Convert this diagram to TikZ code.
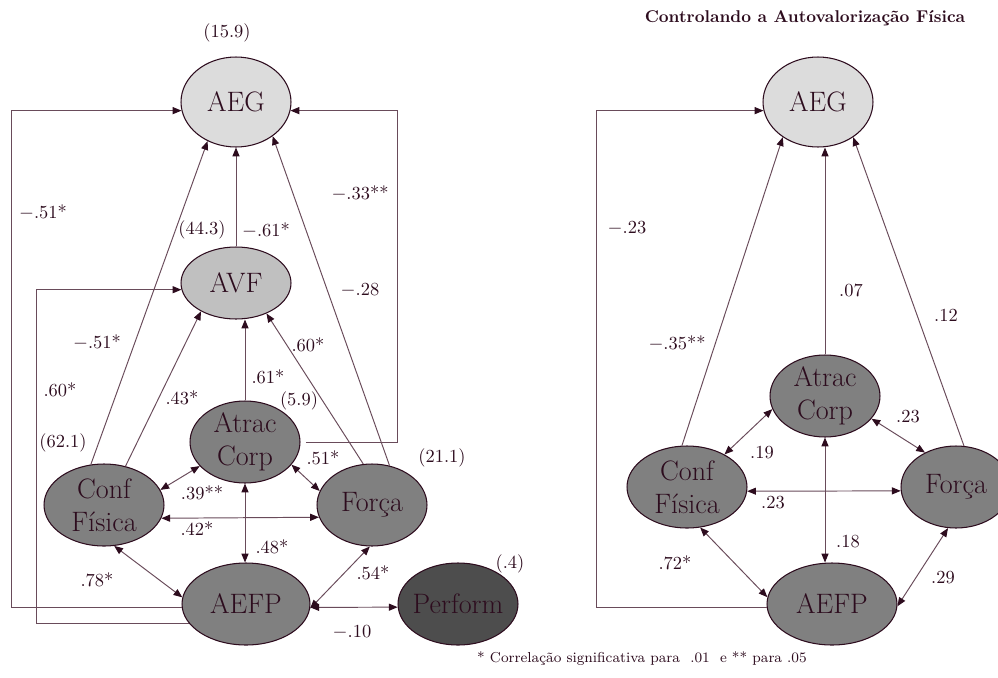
\documentclass[tikz,border=0pt]{standalone}
\usepackage{fontspec}
\usetikzlibrary{shapes.geometric, arrows.meta}

\definecolor{ink}{RGB}{45,12,30}
\definecolor{wire}{RGB}{105,75,90}
\definecolor{paleG}{RGB}{220,220,220}
\definecolor{midG}{RGB}{192,192,192}
\definecolor{darkG}{RGB}{128,128,128}
\definecolor{deepG}{RGB}{77,77,77}

\tikzset{
    var/.style={ellipse, draw=ink, line width=0.6pt, inner sep=-7pt, text=ink,
        font=\fontsize{16}{19}\selectfont, align=center,
        minimum width=2.2cm, minimum height=1.64cm},
    coef/.style={text=ink, font=\fontsize{10.5}{12}\selectfont, inner sep=0pt},
    link/.style={draw=wire, line width=0.55pt}
}

\begin{document}
\begin{tikzpicture}[x=0.02cm, y=-0.02cm, >={Triangle[length=5pt,width=4pt,color=ink]}]
        \useasboundingbox (0,0) rectangle (998,677);

        % Define vertices (left model)
        \node[var, fill=paleG, minimum height=1.8cm] (aegL) at (236,102) {AEG};
        \node[var, fill=midG, minimum height=1.44cm] (avfL) at (236,283) {AVF};
        \node[var, fill=darkG] (atrL) at (245,442) {Atrac\\Corp};
        \node[var, fill=darkG, minimum width=2.4cm] (conL) at (104,505) {Conf\\Física};
        \node[var, fill=darkG] (forL) at (372,505) {Força};
        \node[var, fill=darkG, minimum width=2.56cm] (aefL) at (246,604) {AEFP};
        \node[var, fill=deepG, minimum width=2.4cm] (perL) at (458,604) {Perform};

        % Define vertices (right model)
        \node[var, fill=paleG, minimum height=1.8cm] (aegR) at (818,102) {AEG};
        \node[var, fill=darkG] (atrR) at (825,396) {Atrac\\Corp};
        \node[var, fill=darkG, minimum width=2.4cm] (conR) at (687,487) {Conf\\Física};
        \node[var, fill=darkG] (forR) at (956,487) {Força};
        \node[var, fill=darkG, minimum width=2.6cm] (aefR) at (832,604) {AEFP};

        % Rails for the long paths
        \coordinate (railLo) at (11,0);
        \coordinate (railLi) at (36,0);
        \coordinate (railLr) at (397,0);
        \coordinate (railRo) at (596,0);

        % Draw edges (left model)
        \draw[link,->] (aefL.183) -- (aefL.183 -| railLo) |- (aegL.189);
        \draw[link,->] (aefL.199) -- (aefL.199 -| railLi) |- (avfL.187);
        \draw[link,->] (conL.108) -- (aegL.234);
        \draw[link,->] (conL.61) -- (avfL.219);
        \draw[link,->] (atrL.north) -- (atrL.north |- avfL.south);
        \draw[link,->] (forL.102) -- (avfL.315);
        \draw[link,->] (forL.66) -- (aegL.317);
        \draw[link,->] (avfL.north) -- (aegL.south);
        \draw[link,->] ([xshift=3pt]atrL.east) -- (atrL.east -| railLr) |- (aegL.351);
        \draw[link,<->] (conL.15) -- (atrL.208);
        \draw[link,<->] (atrL.334) -- (forL.165);
        \draw[link,<->] (conL.347) -- (forL.193);
        \draw[link,<->] (atrL.south) -- (atrL.south |- aefL.north);
        \draw[link,<->] (conL.284) -- (aefL.174);
        \draw[link,<->] (forL.267) -- (aefL.356);
        \draw[link,<->] (aefL.357) -- (perL.183);

        % Draw edges (right model)
        \draw[link,->] (aefR.183) -- (aefR.183 -| railRo) |- (aegR.189);
        \draw[link,->] (conR.97) -- (aegR.225);
        \draw[link,->] (atrR.north) -- (atrR.north |- aegR.south);
        \draw[link,->] (forR.79) -- (aegR.315);
        \draw[link,<->] (conR.41) -- (atrR.194);
        \draw[link,<->] (atrR.334) -- (forR.132);
        \draw[link,<->] (conR.356) -- (forR.184);
        \draw[link,<->] (atrR.south) -- (atrR.south |- aefR.north);
        \draw[link,<->] (conR.288) -- (aefR.174);
        \draw[link,<->] (forR.259) -- (aefR.358);

        % Coefficients (left model)
        \node[coef] (r2aegL) at (227,33) {(15.9)};
        \node[coef] (r2avfL) at (202,230) {(44.3)};
        \node[coef] (r2conL) at (63,443) {(62.1)};
        \node[coef] (r2atrL) at (299,401) {(5.9)};
        \node[coef] (r2forL) at (442,458) {(21.1)};
        \node[coef] (r2perL) at (510,564) {(.4)};
        \node[coef] (cAefAegL) at (43,212) {$-$.51*};
        \node[coef] (cAvfAegL) at (266,230) {$-$.61*};
        \node[coef] (cAtrAegL) at (360,193) {$-$.33**};
        \node[coef] (cForAegL) at (360,290) {$-$.28};
        \node[coef] (cConAegL) at (97,342) {$-$.51*};
        \node[coef] (cForAvfL) at (308,345) {.60*};
        \node[coef] (cAtrAvfL) at (268,377) {.61*};
        \node[coef] (cAefAvfL) at (60,390) {.60*};
        \node[coef] (cConAvfL) at (182,398) {.43*};
        \node[coef] (cAtrForL) at (323,458) {.51*};
        \node[coef] (cConAtrL) at (202,493) {.39**};
        \node[coef] (cConForL) at (197,529) {.42*};
        \node[coef] (cAtrAefL) at (272,547) {.48*};
        \node[coef] (cForAefL) at (373,573) {.54*};
        \node[coef] (cConAefL) at (97,580) {.78*};
        \node[coef] (cAefPerL) at (352,632) {$-$.10};

        % Coefficients (right model)
        \node[coef] (cAefAegR) at (627,228) {$-$.23};
        \node[coef] (cAtrAegR) at (851,290) {.07};
        \node[coef] (cForAegR) at (946,315) {.12};
        \node[coef] (cConAegR) at (677,343) {$-$.35**};
        \node[coef] (cConAtrR) at (762,453) {.19};
        \node[coef] (cAtrForR) at (908,417) {.23};
        \node[coef] (cConForR) at (773,503) {.23};
        \node[coef] (cAtrAefR) at (848,542) {.18};
        \node[coef] (cConAefR) at (675,563) {.72*};
        \node[coef] (cForAefR) at (943,578) {.29};

        % Title and note
        \node[text=ink, font=\fontsize{9.7}{12}\selectfont\bfseries] (title) at (805,18) {Controlando a Autovalorização Física};
        \node[text=ink, font=\fontsize{8.2}{10}\selectfont] (note) at (642,659) {* Correlação significativa para~~.01~~e ** para .05};
\end{tikzpicture}
\end{document}
